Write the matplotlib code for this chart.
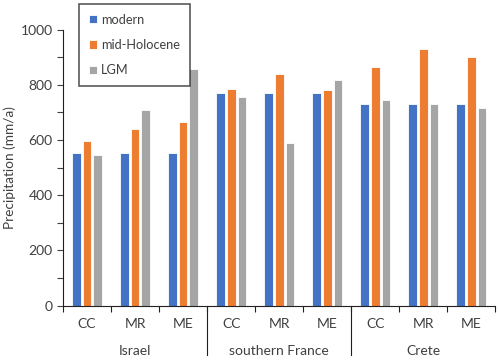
import numpy as np
import matplotlib.pyplot as plt
from matplotlib.transforms import blended_transform_factory

plt.rcParams['font.family'] = ['Lato', 'DejaVu Sans']

regions = ["Israel", "southern France", "Crete"]
sites = ["CC", "MR", "ME"]
series = ["modern", "mid-Holocene", "LGM"]
modern = [552, 552, 552, 770, 770, 770, 732, 732, 732]
mid_holocene = [598, 639, 666, 784, 839, 781, 866, 931, 900]
lgm = [545, 708, 857, 757, 588, 817, 744, 730, 715]
colors = ["#4472C4", "#ED7D31", "#A5A5A5"]

fig = plt.figure(figsize=(5, 3.6), dpi=100)
ax = fig.add_axes([0.126, 0.151, 0.865, 0.7665])

x = np.arange(len(modern))
w = 0.18
step = 0.222
for i, (vals, lab, c) in enumerate(zip([modern, mid_holocene, lgm], series, colors)):
    ax.bar(x + (i - 1) * step, vals, w, color=c, label=lab,
           edgecolor="white", linewidth=0.6)

ax.set_xlim(-0.5, len(modern) - 0.5)
ax.set_ylim(0, 1000)
ax.set_yticks(range(0, 1001, 200))
ax.set_yticks(range(100, 1000, 200), minor=True)
ax.tick_params(axis="y", which="both", direction="out", length=4, color="#404040",
               labelsize=10, labelcolor="#404040", width=0.8)
ax.set_ylabel("Precipitation (mm/a)", fontsize=9.8, color="#404040", labelpad=3)

# category ticks at boundaries
ax.set_xticks(np.arange(-0.5, len(modern), 1.0))
ax.set_xticklabels([])
ax.tick_params(axis="x", direction="out", length=4, color="#202020", width=0.8)

for s in ["top", "right"]:
    ax.spines[s].set_visible(False)
ax.spines["left"].set_color("#202020")
ax.spines["bottom"].set_color("#202020")
ax.spines["left"].set_linewidth(0.8)
ax.spines["bottom"].set_linewidth(0.8)

trans = blended_transform_factory(ax.transData, ax.transAxes)
labels = [s for _ in regions for s in sites]
for xi, lab in zip(x, labels):
    ax.text(xi, -0.065, lab, transform=trans, ha="center", va="center",
            fontsize=10, color="#404040")
for gi, reg in enumerate(regions):
    ax.text(gi * 3 + 1, -0.163, reg, transform=trans, ha="center", va="center",
            fontsize=10, color="#404040")
for b in [2.5, 5.5]:
    ax.plot([b, b], [0, -0.18], transform=trans, color="#202020", lw=0.8, clip_on=False)

leg = ax.legend(loc="upper left", bbox_to_anchor=(0.037, 1.093), frameon=True,
                fancybox=False, edgecolor="#303030", fontsize=9.2, handlelength=0.65,
                handleheight=0.65, handletextpad=0.35, labelspacing=1.05,
                borderpad=0.75, borderaxespad=0, labelcolor="#404040")
leg.get_frame().set_linewidth(1.2)

fig.savefig("out.png", dpi=100)
